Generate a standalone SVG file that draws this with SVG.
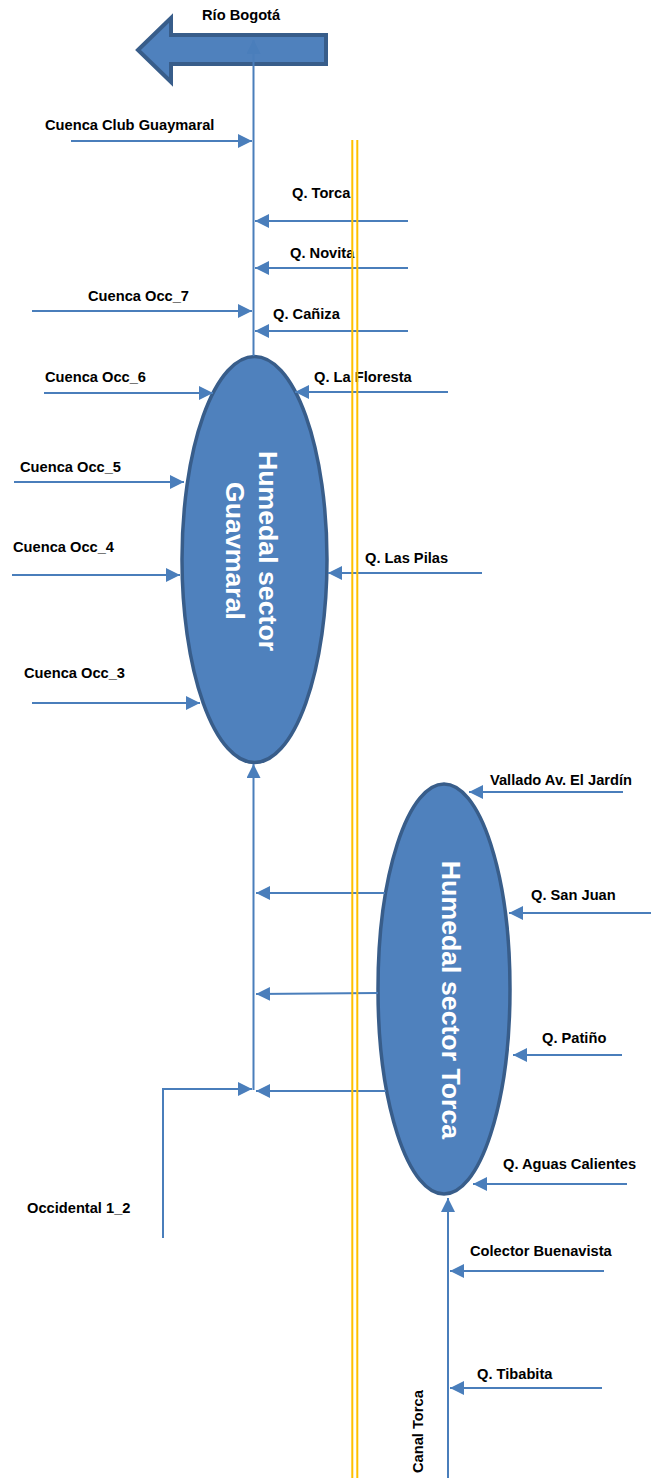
<svg xmlns="http://www.w3.org/2000/svg" width="651" height="1478" viewBox="0 0 651 1478">
<style>
.lbl{font-family:"Liberation Sans",Arial,sans-serif;font-size:14.67px;font-weight:bold;fill:#000}
.big{font-family:"Liberation Sans",Arial,sans-serif;font-size:26.7px;font-weight:bold;fill:#fff}
.c{stroke:#4A7EBB;stroke-width:2;fill:none}
.ca{stroke:#4A7EBB;stroke-width:2;fill:none;marker-end:url(#ah)}
.wet{fill:#4F81BD;stroke:#385D8A;stroke-width:3.5}
.yl{stroke:#FFC000;stroke-width:2}
</style>
<defs>
<marker id="ah" markerUnits="userSpaceOnUse" markerWidth="15" markerHeight="15" refX="14" refY="7" orient="auto">
<path d="M0,0 L14,7 L0,14 z" fill="#4A7EBB"/>
</marker>
</defs>
<g id="rio-bogota">
<polygon points="138,50 171,18 171,35 326,35 326,64 171,64 171,82" fill="#4F81BD" stroke="#385D8A" stroke-width="4" stroke-linejoin="miter"/>
<text class="lbl" x="202" y="20">Río Bogotá</text>
</g>
<g id="humedal-guavmaral">
<ellipse class="wet" cx="254.5" cy="559.5" rx="72.5" ry="203"/>
<text class="big" transform="translate(254.5,551) rotate(90)" text-anchor="middle"><tspan x="0" y="-4">Humedal sector</tspan><tspan x="0" y="29">Guavmaral</tspan></text>
</g>
<g id="humedal-torca">
<ellipse class="wet" cx="444" cy="989" rx="66" ry="205"/>
<text class="big" transform="translate(444,1000) rotate(90)" text-anchor="middle" x="0" y="2">Humedal sector Torca</text>
</g>
<g id="labels">
<text class="lbl" x="45" y="130">Cuenca Club Guaymaral</text>
<text class="lbl" x="292" y="198">Q. Torca</text>
<text class="lbl" x="290" y="258">Q. Novita</text>
<text class="lbl" x="88" y="301">Cuenca Occ_7</text>
<text class="lbl" x="273" y="319">Q. Cañiza</text>
<text class="lbl" x="45" y="382">Cuenca Occ_6</text>
<text class="lbl" x="314" y="382">Q. La Floresta</text>
<text class="lbl" x="20" y="472">Cuenca Occ_5</text>
<text class="lbl" x="13" y="552">Cuenca Occ_4</text>
<text class="lbl" x="365" y="563">Q. Las Pilas</text>
<text class="lbl" x="24" y="678">Cuenca Occ_3</text>
<text class="lbl" x="490" y="785">Vallado Av. El Jardín</text>
<text class="lbl" x="531" y="900">Q. San Juan</text>
<text class="lbl" x="542" y="1043">Q. Patiño</text>
<text class="lbl" x="503" y="1169">Q. Aguas Calientes</text>
<text class="lbl" x="27" y="1213">Occidental 1_2</text>
<text class="lbl" x="470" y="1256">Colector Buenavista</text>
<text class="lbl" x="477" y="1379">Q. Tibabita</text>
<text class="lbl" transform="translate(423,1473) rotate(-90)" x="0" y="0">Canal Torca</text>
</g>
<g id="connectors">
<line class="ca" x1="253.5" y1="356" x2="253.5" y2="40"/>
<line class="ca" x1="71" y1="141" x2="252" y2="141"/>
<line class="ca" x1="408" y1="221" x2="255" y2="221"/>
<line class="ca" x1="408" y1="268" x2="255" y2="268"/>
<line class="ca" x1="32" y1="311" x2="252" y2="311"/>
<line class="ca" x1="408" y1="331" x2="255" y2="331"/>
<line class="ca" x1="44" y1="393" x2="213" y2="393"/>
<line class="ca" x1="448" y1="392" x2="295" y2="392"/>
<line class="ca" x1="14" y1="482" x2="184" y2="482"/>
<line class="ca" x1="12" y1="575" x2="180" y2="575"/>
<line class="ca" x1="482" y1="573" x2="328" y2="573"/>
<line class="ca" x1="32" y1="703" x2="200" y2="703"/>
<line class="ca" x1="253.5" y1="1090" x2="253.5" y2="764"/>
<line class="ca" x1="385" y1="893" x2="256" y2="893"/>
<line class="ca" x1="378" y1="993" x2="256" y2="994"/>
<line class="ca" x1="386" y1="1091" x2="256" y2="1091"/>
<polyline class="ca" points="163,1238 163,1089 252,1089"/>
<line class="ca" x1="623" y1="792" x2="469" y2="792"/>
<line class="ca" x1="651" y1="913" x2="509" y2="913"/>
<line class="ca" x1="622" y1="1055" x2="513" y2="1055"/>
<line class="ca" x1="627" y1="1184" x2="473" y2="1184"/>
<line class="ca" x1="448" y1="1478" x2="448" y2="1198"/>
<line class="ca" x1="604" y1="1271" x2="450" y2="1271"/>
<line class="ca" x1="602" y1="1388" x2="450" y2="1388"/>
</g>
<g id="yellow-lines">
<line class="yl" x1="352.3" y1="140" x2="352.3" y2="1478"/>
<line class="yl" x1="357.3" y1="140" x2="357.3" y2="1478"/>
</g>
</svg>
